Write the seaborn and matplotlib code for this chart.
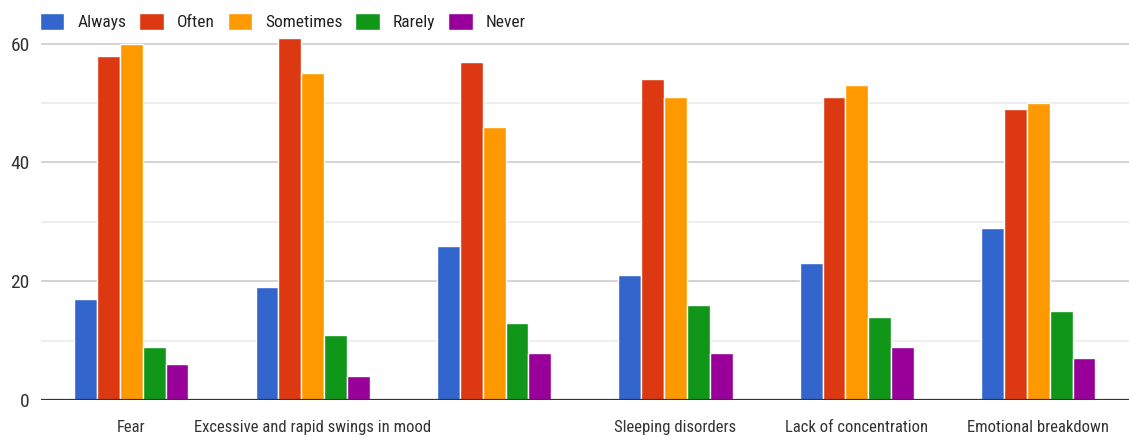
import pandas as pd
import matplotlib
matplotlib.use('Agg')
import matplotlib.pyplot as plt
import seaborn as sns

# Values
categories = ['Fear', 'Excessive and rapid swings in mood', 'Item 3',
              'Sleeping disorders', 'Lack of concentration', 'Emotional breakdown']
tick_labels = ['Fear', 'Excessive and rapid swings in mood', '',
               'Sleeping disorders', 'Lack of concentration', 'Emotional breakdown']
responses = ['Always', 'Often', 'Sometimes', 'Rarely', 'Never']
always = [17, 19, 26, 21, 23, 29]
often = [58, 61, 57, 54, 51, 49]
sometimes = [60, 55, 46, 51, 53, 50]
rarely = [9, 11, 13, 16, 14, 15]
never = [6, 4, 8, 8, 9, 7]
colors = ['#3366cc', '#dc3912', '#ff9900', '#109618', '#990099']

rows = []
for name, vals in zip(responses, [always, often, sometimes, rarely, never]):
    for cat, v in zip(categories, vals):
        rows.append({'category': cat, 'response': name, 'count': v})
df = pd.DataFrame(rows)

sns.set_theme(style='white')
plt.rcParams['font.family'] = ['Roboto Condensed', 'DejaVu Sans']

fig = plt.figure(figsize=(11.29, 4.48), dpi=100)
ax = fig.add_axes([0.036, 0.107, 0.964, 0.822])

sns.barplot(data=df, x='category', y='count', hue='response', order=categories,
            hue_order=responses, palette=colors, width=0.63, saturation=1,
            edgecolor='white', linewidth=1, ax=ax, zorder=3)

ax.set_ylim(0, 62)
ax.set_xlim(-0.5, 5.5)
ax.set_yticks([0, 20, 40, 60])
ax.set_yticks([10, 30, 50], minor=True)
ax.grid(axis='y', which='major', color='#cccccc', linewidth=1.2, zorder=0)
ax.grid(axis='y', which='minor', color='#ebebeb', linewidth=1.2, zorder=0)
ax.axhline(0, color='#333333', linewidth=1.6, zorder=4)
for s in ax.spines.values():
    s.set_visible(False)
ax.tick_params(axis='both', which='both', length=0, labelsize=12, colors='#333333')
ax.tick_params(axis='y', labelsize=14, pad=8)
ax.tick_params(axis='x', pad=14)
ax.set_xticks(range(len(categories)))
ax.set_xticklabels(tick_labels)
ax.set_xlabel('')
ax.set_ylabel('')

ax.legend(loc='lower left', bbox_to_anchor=(-0.007, 0.985), ncol=5, frameon=False,
          fontsize=12.5, handlelength=1.4, handleheight=1.2, handletextpad=0.75,
          columnspacing=0.75, borderaxespad=0, labelcolor='#222222')

fig.savefig('out.png', dpi=100)
